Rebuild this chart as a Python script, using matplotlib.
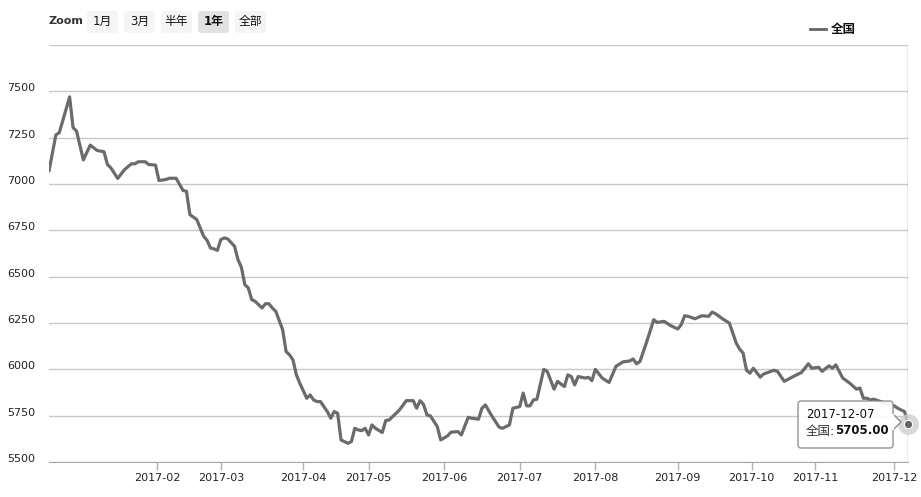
import matplotlib
matplotlib.use("Agg")
import matplotlib.pyplot as plt
from matplotlib.patches import FancyBboxPatch, Polygon
from matplotlib.lines import Line2D
from matplotlib.transforms import IdentityTransform

plt.rcParams['font.family'] = ['DejaVu Sans', 'Noto Sans CJK SC']

# trading-day number (ordinal axis) and national price
obs = [0, 2, 3, 6, 7, 8, 10, 12, 14, 16, 17, 18, 20, 22, 24, 25, 26, 28, 29, 31,
       32, 34, 35, 37, 39, 40, 41, 43, 44, 45, 46, 47, 48, 49, 50, 51, 52, 54, 55, 56,
       57, 58, 59, 60, 62, 63, 64, 65, 66, 68, 69, 70, 71, 72, 73, 75, 76, 77, 78, 79,
       81, 82, 83, 84, 85, 87, 88, 89, 90, 91, 92, 93, 94, 95, 97, 98, 99, 102, 104, 106,
       107, 108, 109, 110, 111, 113, 114, 116, 117, 119, 120, 122, 123, 125, 126, 127, 129, 131, 132, 134,
       135, 137, 138, 139, 140, 141, 142, 144, 145, 147, 148, 150, 151, 152, 153, 154, 156, 157, 158, 159,
       161, 163, 165, 167, 169, 170, 171, 172, 174, 176, 177, 179, 181, 183, 184, 185, 186, 188, 190, 192,
       193, 194, 196, 198, 200, 201, 202, 203, 204, 205, 207, 208, 211, 212, 214, 217, 219, 221, 222, 224,
       225, 227, 228, 229, 231, 233, 235, 236, 237, 238, 239, 240, 243, 246, 247, 249, 250]
price = [7070, 7265, 7277, 7470, 7304, 7286, 7130, 7210, 7181, 7174, 7105, 7087, 7030, 7078, 7109, 7109, 7120, 7120, 7105, 7102,
         7019, 7024, 7031, 7031, 6965, 6961, 6835, 6808, 6763, 6718, 6696, 6655, 6650, 6642, 6700, 6709, 6704, 6664, 6592, 6550,
         6457, 6439, 6376, 6367, 6331, 6354, 6354, 6331, 6313, 6214, 6096, 6078, 6051, 5970, 5925, 5844, 5862, 5835, 5826, 5826,
         5772, 5736, 5772, 5763, 5619, 5601, 5610, 5682, 5673, 5669, 5682, 5646, 5700, 5682, 5659, 5724, 5727, 5781, 5831, 5831,
         5790, 5831, 5810, 5754, 5749, 5691, 5619, 5641, 5661, 5664, 5646, 5741, 5736, 5731, 5790, 5808, 5745, 5688, 5682, 5700,
         5790, 5799, 5872, 5803, 5803, 5835, 5839, 6000, 5989, 5893, 5935, 5907, 5970, 5961, 5916, 5961, 5953, 5957, 5939, 6000,
         5953, 5929, 6016, 6040, 6045, 6056, 6030, 6043, 6151, 6268, 6253, 6259, 6235, 6218, 6241, 6289, 6286, 6273, 6289, 6286,
         6309, 6300, 6273, 6250, 6142, 6109, 6088, 5995, 5979, 6006, 5958, 5975, 5995, 5989, 5935, 5965, 5983, 6030, 6006, 6011,
         5989, 6019, 6006, 6024, 5953, 5926, 5893, 5899, 5844, 5844, 5835, 5839, 5820, 5803, 5790, 5772, 5705]

month_labels = ['2017-02', '2017-03', '2017-04', '2017-05', '2017-06', '2017-07',
                '2017-08', '2017-09', '2017-10', '2017-11', '2017-12']
month_obs = [31.5, 50, 74, 93, 115, 137, 159, 183, 204.5, 223, 246]
y_ticks = [5500, 5750, 6000, 6250, 6500, 6750, 7000, 7250, 7500]
last_date = '2017-12-07'
series_name = '全国'
zoom_buttons = ['1月', '3月', '半年', '1年', '全部']
zoom_selected = '1年'

W, H = 921, 497
fig = plt.figure(figsize=(W / 100, H / 100), dpi=100)
fig.patch.set_facecolor('white')


def fx(x):
    return x / W


def fy(y):
    return 1 - y / H


ax = fig.add_axes([fx(49), fy(462), (908 - 49) / W, (462 - 45) / H])
ax.plot(obs, price, color='#6b6b6b', lw=2.3, solid_joinstyle='round',
        solid_capstyle='round', zorder=3)

ax.set_xlim(0, 250)
ax.set_ylim(5500, 7750)
ax.set_yticks(y_ticks + [7750])
ax.set_yticklabels([str(v) for v in y_ticks] + [''])
ax.yaxis.grid(True, color='#c8c8c8', lw=1)
ax.set_axisbelow(True)
for lab in ax.get_yticklabels():
    lab.set_horizontalalignment('left')
    lab.set_verticalalignment('baseline')
ax.tick_params(axis='y', length=0, pad=30, labelsize=8, labelcolor='#222222')

ax.set_xticks(month_obs)
ax.set_xticklabels(month_labels)
ax.tick_params(axis='x', length=6, width=1, color='#b0b0b0', pad=2,
               labelsize=8, labelcolor='#222222')

for s in ['top', 'left', 'right']:
    ax.spines[s].set_visible(False)
ax.spines['bottom'].set_color('#a8a8a8')

# hover crosshair and marker on the last point
ax.axvline(obs[-1], color='#9a9a9a', lw=1, zorder=2)
ax.plot(obs[-1], price[-1], 'o', ms=15, color='#cfcfcf', alpha=0.8,
        mec='none', clip_on=False, zorder=4)
ax.plot(obs[-1], price[-1], 'o', ms=6, color='#666666', mec='white',
        mew=0.8, clip_on=False, zorder=5)

# range selector buttons
fig.text(fx(48), fy(21), 'Zoom', fontsize=8, color='#333333', va='center',
         fontweight='bold')
bx = [87, 124, 161, 198, 235]
for x0, lab in zip(bx, zoom_buttons):
    sel = lab == zoom_selected
    box = FancyBboxPatch((x0, H - 33), 31, 22, boxstyle='round,pad=0,rounding_size=3',
                         fc='#e2e2e2' if sel else '#f5f5f5', ec='none',
                         transform=IdentityTransform())
    fig.add_artist(box)
    fig.text(fx(x0 + 15.5), fy(21), lab, fontsize=8.5, ha='center', va='center',
             color='#111111', fontweight='bold' if sel else 'normal')

# legend
fig.add_artist(Line2D([fx(810), fx(826)], [fy(29), fy(29)], color='#666666', lw=2,
                      transform=fig.transFigure))
fig.text(fx(831), fy(29), series_name, fontsize=9, fontweight='bold',
         va='center', color='#111111')

# tooltip
tip = FancyBboxPatch((798, H - 448), 95, 47, boxstyle='round,pad=0,rounding_size=3',
                     fc='white', ec='#8a8a8a', lw=1, alpha=0.92,
                     transform=IdentityTransform(), zorder=6)
fig.add_artist(tip)
arrow = Polygon([(893, H - 414), (901, H - 422), (893, H - 430)], closed=True,
                fc='white', ec='#8a8a8a', lw=1, transform=IdentityTransform(), zorder=6)
fig.add_artist(arrow)
fig.add_artist(Line2D([893, 893], [H - 415, H - 429], color='white', lw=1.5,
                      transform=IdentityTransform(), zorder=7))
fig.text(fx(806), fy(415), last_date, fontsize=8.5, va='center', color='#111111', zorder=8)
fig.text(fx(806), fy(431), series_name + ':', fontsize=9, va='center',
         color='#333333', zorder=8)
fig.text(fx(835), fy(431), '%.2f' % price[-1], fontsize=8.5, va='center',
         fontweight='bold', color='#111111', zorder=8)

fig.savefig('out.png', dpi=100)
